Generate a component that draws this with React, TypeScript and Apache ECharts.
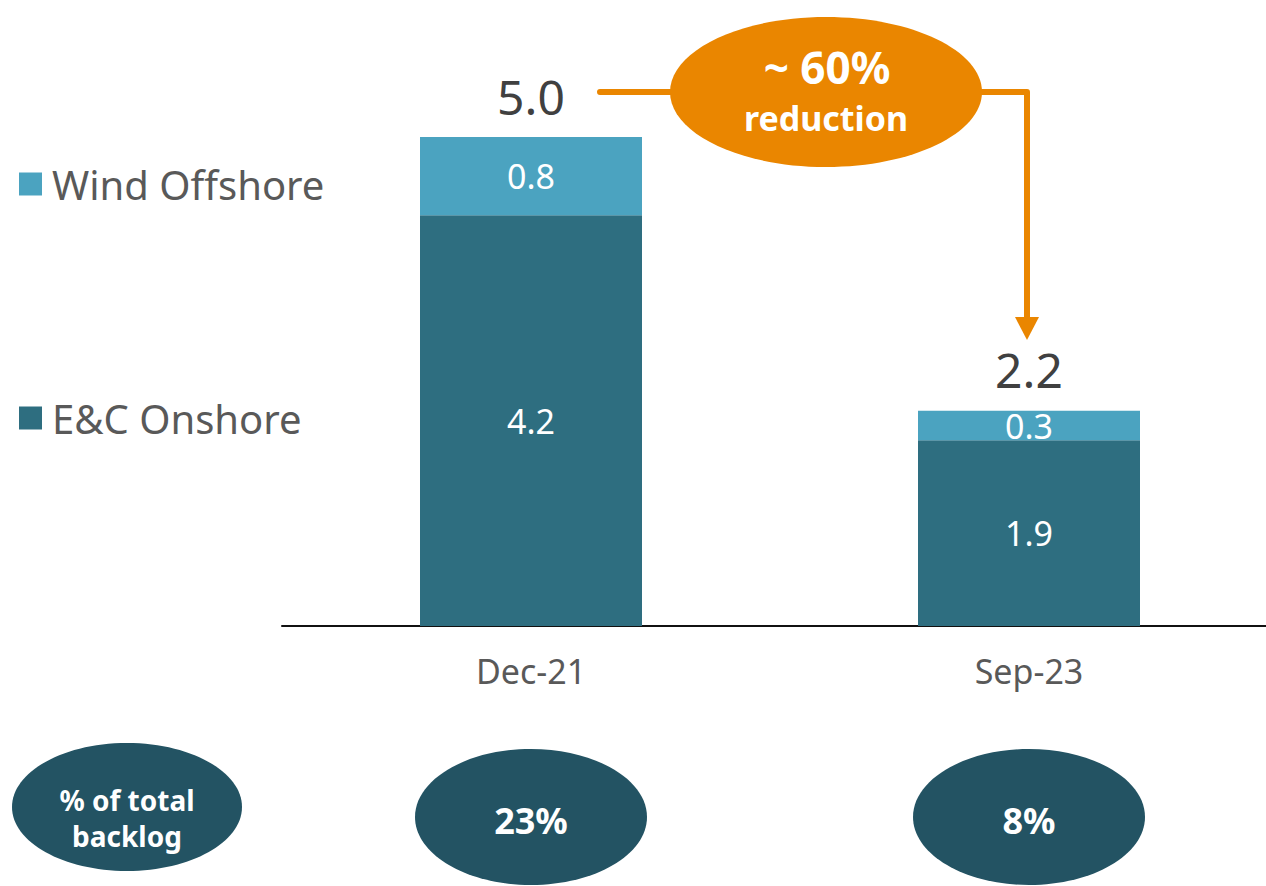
import React, { useEffect, useRef } from "react";
import * as echarts from "echarts";

const categories = ["Dec-21", "Sep-23"];
const onshore = [4.2, 1.9];
const offshore = [0.8, 0.3];
const totals = [5.0, 2.2];
const backlogShare = ["23%", "8%"];
const reductionText = ["~ 60%", "reduction"];

const FONT = "'Noto Sans', sans-serif";
const DARK = "#2E6E80";
const LIGHT = "#4BA3C0";
const ORANGE = "#EA8600";
const NAVY = "#235363";

export default function App() {
  const ref = useRef<HTMLDivElement>(null);
  useEffect(() => {
    if (!ref.current) return;
    const chart = echarts.init(ref.current, null, { renderer: "svg" });
    const legendText = { fontSize: 40, color: "#595959", fontFamily: FONT, padding: [0, 0, 0, 5], lineHeight: 40 };
    const option: any = {
      animation: false,
      textStyle: { fontFamily: FONT },
      grid: { left: 282, top: 137, width: 996, height: 489 },
      legend: [
        {
          data: ["Wind Offshore"],
          left: 19,
          top: 164,
          padding: 0,
          itemWidth: 23,
          itemHeight: 23,
          icon: "rect",
          selectedMode: false,
          textStyle: legendText,
        },
        {
          data: ["E&C Onshore"],
          left: 19,
          top: 398,
          padding: 0,
          itemWidth: 23,
          itemHeight: 23,
          icon: "rect",
          selectedMode: false,
          textStyle: legendText,
        },
      ],
      xAxis: {
        type: "category",
        data: categories,
        axisLine: { show: true, lineStyle: { color: "#111", width: 2 } },
        axisTick: { show: false },
        axisLabel: { fontSize: 34, color: "#595959", margin: 28, fontFamily: FONT },
      },
      yAxis: {
        type: "value",
        min: 0,
        max: 5,
        show: false,
        splitLine: { show: false },
      },
      series: [
        {
          name: "E&C Onshore",
          type: "bar",
          stack: "a",
          barWidth: 222,
          data: onshore,
          itemStyle: { color: DARK },
          label: {
            show: true,
            position: "inside",
            color: "#fff",
            fontSize: 34,
            fontFamily: FONT,
            formatter: (p: any) => p.value.toFixed(1),
          },
        },
        {
          name: "Wind Offshore",
          type: "bar",
          stack: "a",
          barWidth: 222,
          data: offshore,
          itemStyle: { color: LIGHT },
          label: {
            show: true,
            position: "inside",
            color: "#fff",
            fontSize: 34,
            fontFamily: FONT,
            formatter: (p: any) => p.value.toFixed(1),
          },
        },
        {
          name: "Total",
          type: "bar",
          barWidth: 222,
          barGap: "-100%",
          data: totals,
          silent: true,
          z: 0,
          itemStyle: { color: "rgba(0,0,0,0)" },
          label: {
            show: true,
            position: "top",
            distance: 17,
            color: "#404040",
            fontSize: 48,
            fontFamily: FONT,
            formatter: (p: any) => p.value.toFixed(1),
          },
        },
      ],
      graphic: [
        {
          type: "polyline",
          z: 10,
          shape: { points: [[600, 92], [1027, 92], [1027, 320]] },
          style: { stroke: ORANGE, lineWidth: 6, fill: null, lineCap: "round", lineJoin: "round" },
        },
        {
          type: "polygon",
          z: 10,
          shape: { points: [[1015, 317], [1039, 317], [1027, 340]] },
          style: { fill: ORANGE },
        },
        {
          type: "ellipse",
          z: 11,
          shape: { cx: 826, cy: 92, rx: 156, ry: 75 },
          style: { fill: ORANGE },
        },
        {
          type: "text",
          z: 12,
          x: 827,
          y: 67,
          style: {
            text: reductionText[0],
            fill: "#fff",
            font: `bold 44px ${FONT}`,
            align: "center",
            verticalAlign: "middle",
          },
        },
        {
          type: "text",
          z: 12,
          x: 826,
          y: 118,
          style: {
            text: reductionText[1],
            fill: "#fff",
            font: `bold 34px ${FONT}`,
            align: "center",
            verticalAlign: "middle",
          },
        },
        {
          type: "ellipse",
          z: 11,
          shape: { cx: 127, cy: 807, rx: 115, ry: 64 },
          style: { fill: NAVY },
        },
        {
          type: "text",
          z: 12,
          x: 127,
          y: 818,
          style: {
            text: "% of total\nbacklog",
            fill: "#fff",
            font: `bold 28px ${FONT}`,
            lineHeight: 36,
            align: "center",
            verticalAlign: "middle",
          },
        },
        {
          type: "ellipse",
          z: 11,
          shape: { cx: 531, cy: 817, rx: 116, ry: 68 },
          style: { fill: NAVY },
        },
        {
          type: "text",
          z: 12,
          x: 531,
          y: 820,
          style: {
            text: backlogShare[0],
            fill: "#fff",
            font: `bold 36px ${FONT}`,
            align: "center",
            verticalAlign: "middle",
          },
        },
        {
          type: "ellipse",
          z: 11,
          shape: { cx: 1029, cy: 817, rx: 116, ry: 68 },
          style: { fill: NAVY },
        },
        {
          type: "text",
          z: 12,
          x: 1029,
          y: 820,
          style: {
            text: backlogShare[1],
            fill: "#fff",
            font: `bold 36px ${FONT}`,
            align: "center",
            verticalAlign: "middle",
          },
        },
      ],
    };
    chart.setOption(option);
    return () => chart.dispose();
  }, []);
  return (
    <div
      style={{ position: "absolute", left: 0, top: 0, width: 1266, height: 886, overflow: "hidden", background: "#fff" }}
    >
      <div ref={ref} style={{ width: 1300, height: 886 }} />
    </div>
  );
}
